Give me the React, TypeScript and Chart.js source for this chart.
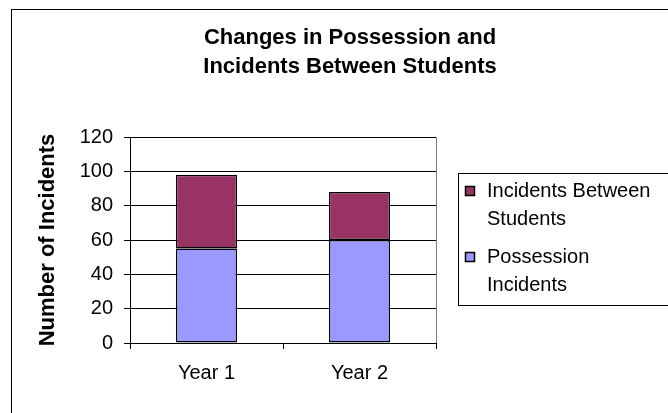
import React, { useEffect, useRef } from 'react';
import { Chart, registerables } from 'chart.js';

Chart.register(...registerables);

// Chart data
const categories = ['Year 1', 'Year 2'];
const possessionIncidents = [55, 60];
const incidentsBetweenStudents = [43, 28];
const seriesNames = ['Possession Incidents', 'Incidents Between Students'];
const seriesColors = ['#9999FF', '#993366'];
const yMin = 0;
const yMax = 120;
const yStep = 20;
const chartTitle = ['Changes in Possession and', 'Incidents Between Students'];
const yAxisTitle = 'Number of Incidents';

const FONT = '"Liberation Sans", Arial, sans-serif';

// Word-wrap a label to a maximum width
function wrapText(ctx: CanvasRenderingContext2D, text: string, maxWidth: number): string[] {
  const words = text.split(' ');
  const lines: string[] = [];
  let cur = '';
  for (const w of words) {
    const test = cur ? cur + ' ' + w : w;
    if (cur && ctx.measureText(test).width > maxWidth) {
      lines.push(cur);
      cur = w;
    } else {
      cur = test;
    }
  }
  if (cur) lines.push(cur);
  return lines;
}

// Outer frame, title, plot-area edge and a boxed legend with wrapped entries
const decorPlugin = {
  id: 'decor',
  beforeDraw(chart: any) {
    const ctx = chart.ctx as CanvasRenderingContext2D;
    ctx.save();
    ctx.fillStyle = '#ffffff';
    ctx.fillRect(0, 0, chart.width, chart.height);
    ctx.strokeStyle = '#000000';
    ctx.lineWidth = 1;
    ctx.strokeRect(11.5, 9.5, chart.width + 40, chart.height + 40);
    ctx.restore();
  },
  afterDraw(chart: any) {
    const ctx = chart.ctx as CanvasRenderingContext2D;
    const { right, top, bottom } = chart.chartArea;
    ctx.save();

    // plot area right edge
    ctx.strokeStyle = '#808080';
    ctx.lineWidth = 1;
    ctx.beginPath();
    ctx.moveTo(Math.round(right) + 0.5, top);
    ctx.lineTo(Math.round(right) + 0.5, bottom);
    ctx.stroke();

    // title
    ctx.fillStyle = '#000000';
    ctx.font = `bold 22px ${FONT}`;
    ctx.textAlign = 'center';
    ctx.textBaseline = 'middle';
    chartTitle.forEach((line, i) => ctx.fillText(line, 350, 38 + i * 29));

    // legend
    ctx.strokeStyle = '#000000';
    ctx.strokeRect(458.5, 173.5, 300, 132);
    ctx.font = `20px ${FONT}`;
    ctx.textAlign = 'left';
    let y = 191;
    const order = chart.data.datasets.map((_: any, i: number) => i).reverse();
    order.forEach((di: number) => {
      const ds = chart.data.datasets[di];
      ctx.fillStyle = ds.backgroundColor;
      ctx.fillRect(466, y - 4, 8, 8);
      ctx.strokeStyle = '#000000';
      ctx.lineWidth = 1.5;
      ctx.strokeRect(465.5, y - 4.5, 9, 9);
      ctx.fillStyle = '#000000';
      const lines = wrapText(ctx, ds.label, 165);
      lines.forEach((ln, li) => ctx.fillText(ln, 487, y + li * 28));
      y += lines.length * 28 + 10;
    });
    ctx.restore();
  },
};

export default function App() {
  const canvasRef = useRef<HTMLCanvasElement | null>(null);

  useEffect(() => {
    if (!canvasRef.current) return;
    const chart = new Chart(canvasRef.current, {
      type: 'bar',
      data: {
        labels: categories,
        datasets: [
          {
            label: seriesNames[0],
            data: possessionIncidents,
            backgroundColor: seriesColors[0],
            borderColor: '#000000',
            borderWidth: 1.5,
            borderSkipped: false,
            barPercentage: 0.4,
            categoryPercentage: 1,
          },
          {
            label: seriesNames[1],
            data: incidentsBetweenStudents,
            backgroundColor: seriesColors[1],
            borderColor: '#000000',
            borderWidth: 1.5,
            borderSkipped: false,
            barPercentage: 0.4,
            categoryPercentage: 1,
          },
        ],
      },
      options: {
        animation: false,
        responsive: false,
        devicePixelRatio: 1,
        layout: { padding: { left: 11, top: 137, right: 232, bottom: 0 } },
        plugins: {
          legend: { display: false },
          title: { display: false },
          tooltip: { enabled: false },
        },
        scales: {
          x: {
            stacked: true,
            afterFit: (scale: any) => { scale.height = 70; },
            grid: {
              display: true,
              drawOnChartArea: false,
              drawTicks: true,
              tickLength: 6,
              color: '#000000',
              offset: true,
            },
            border: { display: true, color: '#000000', width: 1 },
            ticks: {
              color: '#000000',
              font: { family: FONT, size: 20 },
              padding: 12,
            },
          },
          y: {
            stacked: true,
            min: yMin,
            max: yMax,
            afterFit: (scale: any) => { scale.width = 119; },
            ticks: {
              stepSize: yStep,
              color: '#000000',
              font: { family: FONT, size: 20 },
              padding: 11,
            },
            grid: {
              color: '#000000',
              tickLength: 6,
              lineWidth: 1,
            },
            border: { display: true, color: '#000000', width: 1 },
            title: {
              display: true,
              text: yAxisTitle,
              color: '#000000',
              font: { family: FONT, size: 22, weight: 'bold' },
              padding: { top: 24, bottom: 0 },
            },
          },
        },
      },
      plugins: [decorPlugin],
    });
    return () => chart.destroy();
  }, []);

  return (
    <div style={{ position: 'absolute', left: 0, top: 0, width: 668, height: 413 }}>
      <canvas ref={canvasRef} width={668} height={413} style={{ display: 'block' }} />
    </div>
  );
}
